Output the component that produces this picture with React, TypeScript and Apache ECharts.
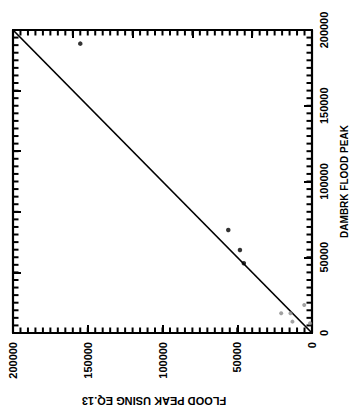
import React, { useEffect, useRef } from "react";
import * as echarts from "echarts";

// Values: [flood peak using Eq.13, DAMBRK flood peak]
const darkPoints: number[][] = [
  [155000, 191000],
  [56000, 68000],
  [48200, 54800],
  [45600, 46000],
];
const faintPoints: number[][] = [
  [20600, 13000],
  [14400, 13000],
  [13100, 7500],
  [5200, 18500],
  [1300, 6400],
];
const equalityLine: number[][] = [
  [0, 0],
  [200000, 200000],
];
const axisMin = 0;
const axisMax = 200000;
const labelInterval = 50000;
const sideInterval = 40000;
const minorStep = 5000;
const minorTickValues: number[] = [];
for (let v = axisMin; v <= axisMax; v += minorStep) minorTickValues.push(v);
const xTitle = "FLOOD PEAK USING EQ.13";
const yTitle = "DAMBRK FLOOD PEAK";

export default function App() {
  const ref = useRef<HTMLDivElement>(null);
  useEffect(() => {
    if (!ref.current) return;
    const chart = echarts.init(ref.current, undefined, { renderer: "svg" });
    const ink = "#000000";
    const lineStyle = { color: ink, width: 2.2 };
    const tickFont = {
      color: ink,
      fontFamily: "'Liberation Sans Narrow', 'Liberation Sans', Arial, sans-serif",
      fontWeight: "bold" as const,
      fontSize: 11,
      formatter: (v: number) => String(v),
    };
    const common = {
      type: "value",
      min: axisMin,
      max: axisMax,
      splitLine: { show: false },
    };
    const majorTick = { show: true, inside: true, length: 8, lineStyle: { color: ink, width: 2 } };
    const minorLen = 5.5;
    chart.setOption({
      animation: false,
      backgroundColor: "#ffffff",
      grid: { left: 13, right: 34, top: 30, bottom: 76, containLabel: false },
      xAxis: [
        {
          ...common,
          position: "bottom",
          inverse: true,
          interval: labelInterval,
          axisLine: { show: true, onZero: false, lineStyle },
          axisTick: majorTick,
          axisLabel: { ...tickFont, rotate: 90, margin: 9 },
        },
        {
          ...common,
          position: "top",
          inverse: true,
          interval: sideInterval,
          axisLine: { show: true, onZero: false, lineStyle },
          axisTick: majorTick,
          axisLabel: { show: false },
        },
      ],
      yAxis: [
        {
          ...common,
          position: "right",
          interval: labelInterval,
          name: yTitle,
          nameLocation: "middle",
          nameRotate: 90,
          nameGap: 27,
          nameTextStyle: {
            color: ink,
            fontFamily: "'Liberation Sans', Arial, sans-serif",
            fontWeight: "bold",
            fontSize: 10,
          },
          axisLine: { show: true, onZero: false, lineStyle },
          axisTick: majorTick,
          axisLabel: { ...tickFont, rotate: 90, margin: 6 },
        },
        {
          ...common,
          position: "left",
          interval: sideInterval,
          axisLine: { show: true, onZero: false, lineStyle },
          axisTick: majorTick,
          axisLabel: { show: false },
        },
      ],
      graphic: [
        {
          type: "text",
          x: 154,
          y: 401,
          rotation: Math.PI,
          style: {
            text: xTitle,
            fill: ink,
            fontFamily: "'Liberation Sans', Arial, sans-serif",
            fontWeight: "bold",
            fontSize: 11,
            align: "center",
            verticalAlign: "middle",
          },
        },
      ],
      series: [
        {
          type: "custom",
          name: "minor ticks",
          coordinateSystem: "cartesian2d",
          xAxisIndex: 0,
          yAxisIndex: 0,
          silent: true,
          clip: false,
          data: [[axisMin, axisMin]],
          renderItem: (_params: any, api: any) => {
            const children: any[] = [];
            const style = { stroke: ink, lineWidth: 2 };
            minorTickValues.forEach((v) => {
              const b = api.coord([v, axisMin]);
              const t = api.coord([v, axisMax]);
              const r = api.coord([axisMin, v]);
              const l = api.coord([axisMax, v]);
              children.push(
                { type: "line", shape: { x1: b[0], y1: b[1], x2: b[0], y2: b[1] - minorLen }, style },
                { type: "line", shape: { x1: t[0], y1: t[1], x2: t[0], y2: t[1] + minorLen }, style },
                { type: "line", shape: { x1: r[0], y1: r[1], x2: r[0] - minorLen, y2: r[1] }, style },
                { type: "line", shape: { x1: l[0], y1: l[1], x2: l[0] + minorLen, y2: l[1] }, style }
              );
            });
            return { type: "group", children };
          },
          z: 1,
        },
        {
          type: "line",
          xAxisIndex: 0,
          yAxisIndex: 0,
          data: equalityLine,
          showSymbol: false,
          symbol: "none",
          lineStyle: { color: ink, width: 1.7 },
          z: 2,
        },
        {
          type: "scatter",
          xAxisIndex: 0,
          yAxisIndex: 0,
          data: darkPoints,
          symbol: "circle",
          symbolSize: 4.5,
          itemStyle: { color: "#000" },
          z: 3,
        },
        {
          type: "scatter",
          xAxisIndex: 0,
          yAxisIndex: 0,
          data: faintPoints,
          symbol: "circle",
          symbolSize: 4,
          itemStyle: { color: "#8a8a8a" },
          z: 3,
        },
      ],
    });
    return () => chart.dispose();
  }, []);
  return (
    <div
      ref={ref}
      style={{ position: "absolute", left: 0, top: 0, width: 357, height: 409, background: "#fff" }}
    />
  );
}
